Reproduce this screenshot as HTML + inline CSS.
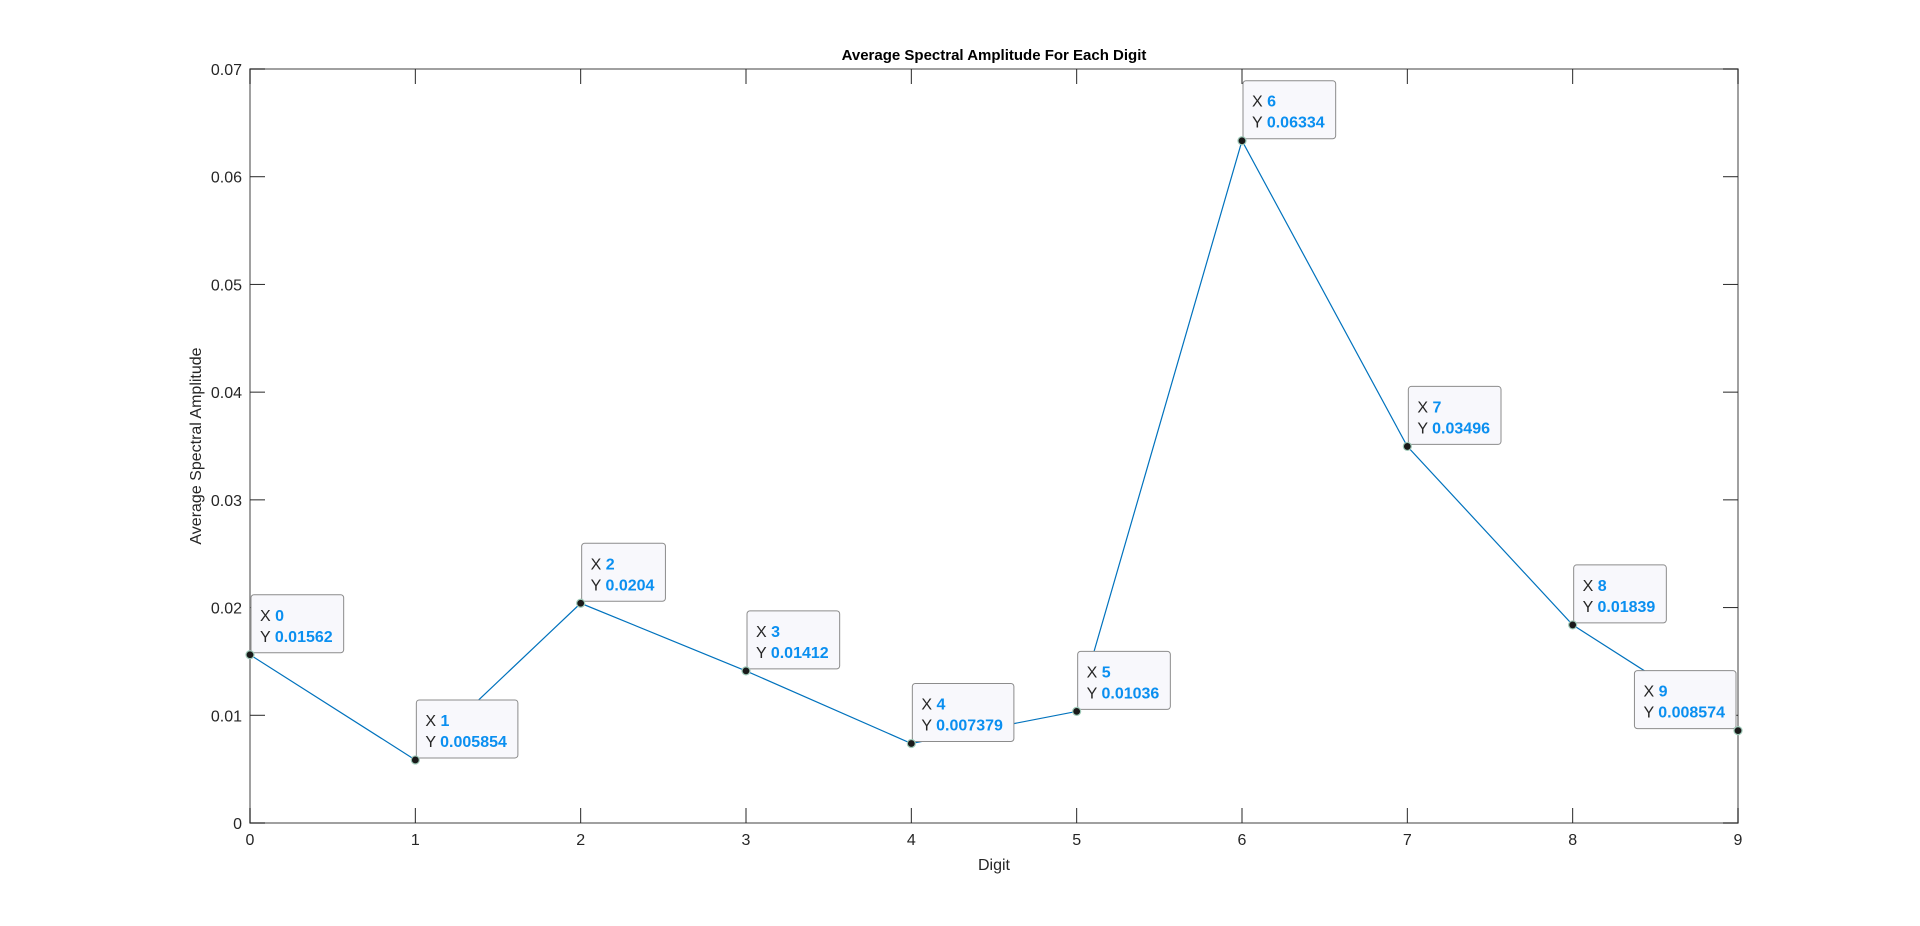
<!DOCTYPE html>
<html><head><meta charset="utf-8"><style>
body{margin:0;background:#fff;}
svg{display:block;font-family:"Liberation Sans",Arial,sans-serif;}
</style></head><body>
<svg id="chart" width="1920" height="926" viewBox="0 0 1920 926" xmlns="http://www.w3.org/2000/svg">
<rect width="1920" height="926" fill="#fff"/>
<text x="994" y="60" text-anchor="middle" font-size="15" font-weight="bold" fill="#000">Average Spectral Amplitude For Each Digit</text>
<text x="994" y="870" text-anchor="middle" font-size="16" fill="#262626">Digit</text>
<text transform="translate(201,446) rotate(-90)" text-anchor="middle" font-size="16" fill="#262626">Average Spectral Amplitude</text>
<g id="axes"></g><g id="series"></g><g id="tips"></g>
</svg>
<script>
const digits=[0,1,2,3,4,5,6,7,8,9];
const amplitudes=[0.01562,0.005854,0.0204,0.01412,0.007379,0.01036,0.06334,0.03496,0.01839,0.008574];
const xTicks=[0,1,2,3,4,5,6,7,8,9];
const yTicks=[0,0.01,0.02,0.03,0.04,0.05,0.06,0.07];
const yTickLabels=["0","0.01","0.02","0.03","0.04","0.05","0.06","0.07"];
const tipLabels=["0.01562","0.005854","0.0204","0.01412","0.007379","0.01036","0.06334","0.03496","0.01839","0.008574"];
const L=250,R=1738,T=69,B=823;
const xs=v=>L+(v-0)/(9-0)*(R-L);
const ys=v=>B-(v-0)/(0.07-0)*(B-T);
const NS="http://www.w3.org/2000/svg";
function mk(tag,attrs,parent){const e=document.createElementNS(NS,tag);for(const k in attrs)e.setAttribute(k,attrs[k]);parent.appendChild(e);return e;}
const ax=document.getElementById('axes');
const frame=mk('rect',{x:L,y:T,width:R-L,height:B-T,fill:'none',stroke:'#808080','stroke-width':1.5},ax);


xTicks.forEach(v=>{const x=xs(v);
 mk('line',{x1:x,y1:B,x2:x,y2:B-15,stroke:'#262626'},ax);
 mk('line',{x1:x,y1:T,x2:x,y2:T+15,stroke:'#262626'},ax);
 const t=mk('text',{x:x,y:B+22,'text-anchor':'middle','font-size':16,fill:'#262626'},ax);t.textContent=v;
 
 
});
yTicks.forEach((v,i)=>{const y=ys(v);
 mk('line',{x1:L,y1:y,x2:L+15,y2:y,stroke:'#262626'},ax);
 mk('line',{x1:R,y1:y,x2:R-15,y2:y,stroke:'#262626'},ax);
 const t=mk('text',{x:L-8,y:y+6,'text-anchor':'end','font-size':16,fill:'#262626'},ax);t.textContent=yTickLabels[i];
 
 
});
const sg=document.getElementById('series');
const line=mk('polyline',{points:digits.map((d,i)=>xs(d)+','+ys(amplitudes[i])).join(' '),fill:'none',stroke:'#0072BD','stroke-width':1.2},sg);


const tg=document.getElementById('tips');
digits.forEach((d,i)=>{
 const px=xs(d),py=ys(amplitudes[i]);
 const g=mk('g',{},tg);
 
 
 const rect=mk('rect',{rx:3,fill:'#f8f8fc',stroke:'#8c8c8c','stroke-width':1},g);
 const t1=mk('text',{'font-size':16,fill:'#262626'},g);
 t1.innerHTML='X <tspan font-weight="bold" fill="#0a8ff0">'+d+'</tspan>';
 const t2=mk('text',{'font-size':16,fill:'#262626'},g);
 t2.innerHTML='Y <tspan font-weight="bold" fill="#0a8ff0">'+tipLabels[i]+'</tspan>';
 const w=Math.max(t1.getComputedTextLength(),t2.getComputedTextLength())+20,h=58;
 let bx=px+1,by=py-h-2;
 if(bx+w>R+2){bx=px-w-2;}
 rect.setAttribute('x',bx);rect.setAttribute('y',by);rect.setAttribute('width',w);rect.setAttribute('height',h);
 t1.setAttribute('x',bx+9);t1.setAttribute('y',by+26);
 t2.setAttribute('x',bx+9);t2.setAttribute('y',by+47);
 const m=mk('circle',{cx:px,cy:py,r:4,fill:'#1a1a1a',stroke:'#9fc9b8','stroke-width':1.2},g);
 
 
});
</script>
</body></html>
